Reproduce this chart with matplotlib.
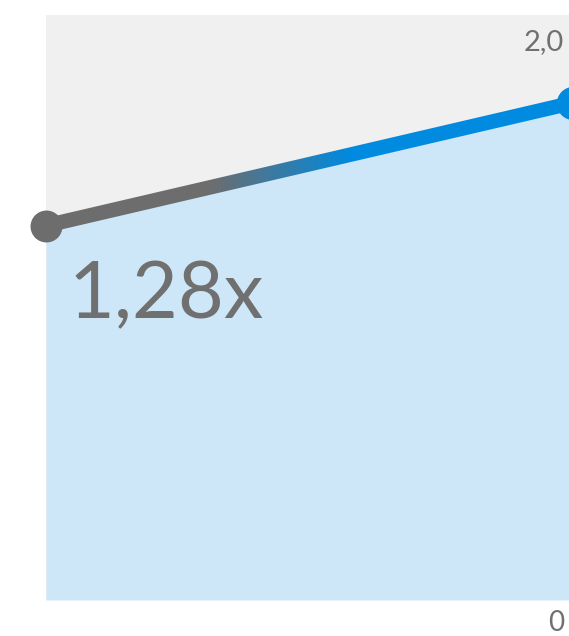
import numpy as np
import matplotlib.pyplot as plt
from matplotlib.colors import LinearSegmentedColormap
from matplotlib.patches import Polygon

# data
x = [0, 1]
values = [1.28, 1.70]
y_max = 2.0
top_label = "2,0"
bottom_label = "0"
ratio_label = "1,28x"

gray = "#6d6d6d"
blue = "#008ae0"

W, H = 569, 636
fig = plt.figure(figsize=(W / 100, H / 100), dpi=100)
ax = fig.add_axes([46 / W, 36 / H, (573 - 46) / W, 585 / H])
ax.set_xlim(0, 1)
ax.set_ylim(0, y_max)
ax.set_facecolor("#f0f0f0")
for s in ax.spines.values():
    s.set_visible(False)
ax.set_xticks([])
ax.set_yticks([])

ax.fill_between(x, values, 0, color="#cde7f8", lw=0)

# gradient line: gradient image clipped to the stroke of the line
lw_pt = 10.5
p0 = ax.transData.transform((x[0], values[0]))
p1 = ax.transData.transform((x[1], values[1]))
d = (p1 - p0) / np.hypot(*(p1 - p0))
n = np.array([-d[1], d[0]]) * lw_pt * fig.dpi / 72 / 2
band = Polygon([p0 + n, p1 + n, p1 - n, p0 - n], closed=True,
               transform=None, facecolor="none", edgecolor="none")
fig.add_artist(band)
cmap = LinearSegmentedColormap.from_list(
    "g", [(0, gray), (0.31, gray), (0.58, blue), (1, blue)])
grad = np.linspace(0, 1, 512).reshape(1, -1)
img = ax.imshow(grad, cmap=cmap, extent=[0, 1, 0, y_max], aspect="auto", zorder=3)
img.set_clip_path(band)

ax.plot(x[0], values[0], "o", ms=23, color=gray, mec="none", zorder=4, clip_on=False)
ax.plot(x[1], values[1], "o", ms=24, color=blue, mec="none", zorder=4, clip_on=False)

font = dict(family=["Lato", "DejaVu Sans"], weight="normal", color="#707070")
fig.text(564 / W, 1 - 42 / H, top_label, ha="right", va="center", fontsize=21, **font)
fig.text(556 / W, 1 - 623 / H, bottom_label, ha="center", va="center", fontsize=20, **font)
fig.text(69 / W, 1 - 296 / H, ratio_label, ha="left", va="center", fontsize=57, **font)

fig.savefig("out.png", dpi=100)
